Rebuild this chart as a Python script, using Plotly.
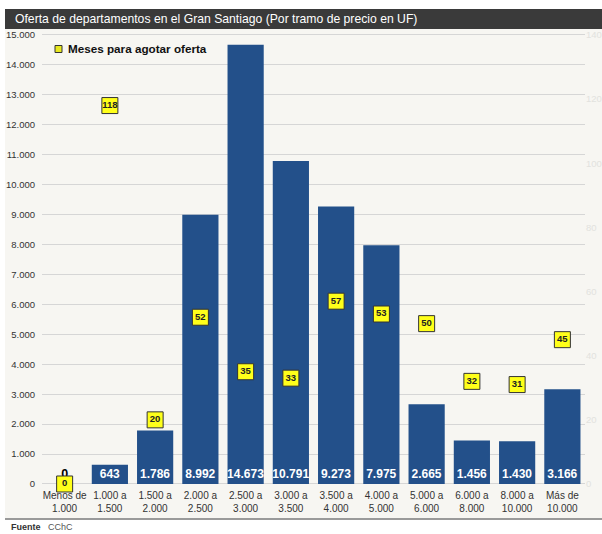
import plotly.graph_objects as go

categories = ["Menos de<br>1.000", "1.000 a<br>1.500", "1.500 a<br>2.000", "2.000 a<br>2.500",
              "2.500 a<br>3.000", "3.000 a<br>3.500", "3.500 a<br>4.000", "4.000 a<br>5.000",
              "5.000 a<br>6.000", "6.000 a<br>8.000", "8.000 a<br>10.000", "Más de<br>10.000"]
oferta = [0, 643, 1786, 8992, 14673, 10791, 9273, 7975, 2665, 1456, 1430, 3166]
meses = [0, 118, 20, 52, 35, 33, 57, 53, 50, 32, 31, 45]
left_ticks = list(range(0, 15001, 1000))
right_ticks = list(range(0, 141, 20))

# body margin is removed by the post script, so the figure fills the window
W, H = 602, 534
PL, PR, PT, PB = 42, 585, 32, 488          # plot area, window pixels
L, R, T, B = PL, W - PR, PT, H - PB
pw, ph = PR - PL, PB - PT

def px(x):
    return (x - PL) / pw

def py(y):
    return (PB - y) / ph

FONT = "Liberation Sans, Arial, sans-serif"

fig = go.Figure()

fig.add_trace(go.Bar(
    x=categories, y=oferta, marker=dict(color="#23508a", line=dict(width=0)),
    texttemplate="<b>%{y:,.0f}</b>",
    textposition=["outside" if v == 0 else "inside" for v in oferta],
    insidetextanchor="start", textangle=0, constraintext="none",
    insidetextfont=dict(color="white", size=12, family=FONT),
    outsidetextfont=dict(color="black", size=12.5, family=FONT),
    cliponaxis=False, showlegend=False, hoverinfo="skip",
))

fig.add_trace(go.Scatter(
    x=categories, y=meses, yaxis="y2", mode="markers+text",
    marker=dict(symbol="square", size=16, color="#ffff1a", line=dict(color="#333", width=1)),
    text=["<b>%d</b>" % v for v in meses], textposition="middle center",
    textfont=dict(size=9.5, color="#222", family=FONT),
    cliponaxis=False, showlegend=False, hoverinfo="skip",
))

fig.update_layout(
    width=W, height=H,
    margin=dict(l=L, r=R, t=T, b=B, autoexpand=False),
    paper_bgcolor="white", plot_bgcolor="rgba(0,0,0,0)",
    separators=",.",
    font=dict(family=FONT, color="#333"),
    bargap=0.2,
    showlegend=False,
    hovermode=False,
    xaxis=dict(range=[-0.5, len(categories) - 0.5], tickfont=dict(size=10, color="#333"),
               showgrid=False, zeroline=False, showline=False, ticks=""),
    yaxis=dict(range=[-134, 15100], tickvals=left_ticks, tickformat=",.0f",
               tickfont=dict(size=9.5, color="#333"), gridcolor="#d6d6d6", gridwidth=1.3,
               zeroline=False, showline=False, ticks="", ticklabelstandoff=6),
    yaxis2=dict(range=[-134 * 140 / 15000, 15100 * 140 / 15000], tickvals=right_ticks,
                overlaying="y", side="right", showgrid=False, zeroline=False,
                tickfont=dict(size=9.5, color="#e2e2de"), ticks=""),
    shapes=[
        dict(type="rect", xref="paper", yref="paper", x0=px(5), x1=px(W), y0=py(519), y1=py(29),
             fillcolor="#f7f6f2", line=dict(width=0), layer="below"),
        dict(type="rect", xref="paper", yref="paper", x0=px(5), x1=px(W), y0=py(29), y1=py(9),
             fillcolor="#3a3a3a", line=dict(width=0), layer="below"),
        dict(type="line", xref="paper", yref="paper", x0=px(5), x1=px(W), y0=py(519), y1=py(519),
             line=dict(color="#9a9a9a", width=2)),
        # legend symbol
        dict(type="rect", xref="paper", yref="paper", x0=px(55), x1=px(62), y0=py(52.5), y1=py(45.5),
             fillcolor="#e8e820", line=dict(color="#333", width=1)),
    ],
    annotations=[
        dict(text="Oferta de departamentos en el Gran Santiago (Por tramo de precio en UF)",
             xref="paper", yref="paper", x=px(13), y=py(19), xanchor="left", yanchor="middle",
             showarrow=False, font=dict(size=12.2, color="white", family=FONT)),
        dict(text="<b>Meses para agotar oferta</b>", xref="paper", yref="paper", x=px(66), y=py(49),
             xanchor="left", yanchor="middle", showarrow=False,
             font=dict(size=11.7, color="#111", family=FONT)),
        dict(text="<b>Fuente</b>", xref="paper", yref="paper", x=px(9), y=py(527),
             xanchor="left", yanchor="middle", showarrow=False,
             font=dict(size=9, color="#333", family=FONT)),
        dict(text="CChC", xref="paper", yref="paper", x=px(46), y=py(527),
             xanchor="left", yanchor="middle", showarrow=False,
             font=dict(size=9, color="#555", family=FONT)),
    ],
)

fig.write_html(
    "out.html",
    config={"displayModeBar": False},
    post_script="document.body.style.margin='0';document.body.style.overflow='hidden';",
)
